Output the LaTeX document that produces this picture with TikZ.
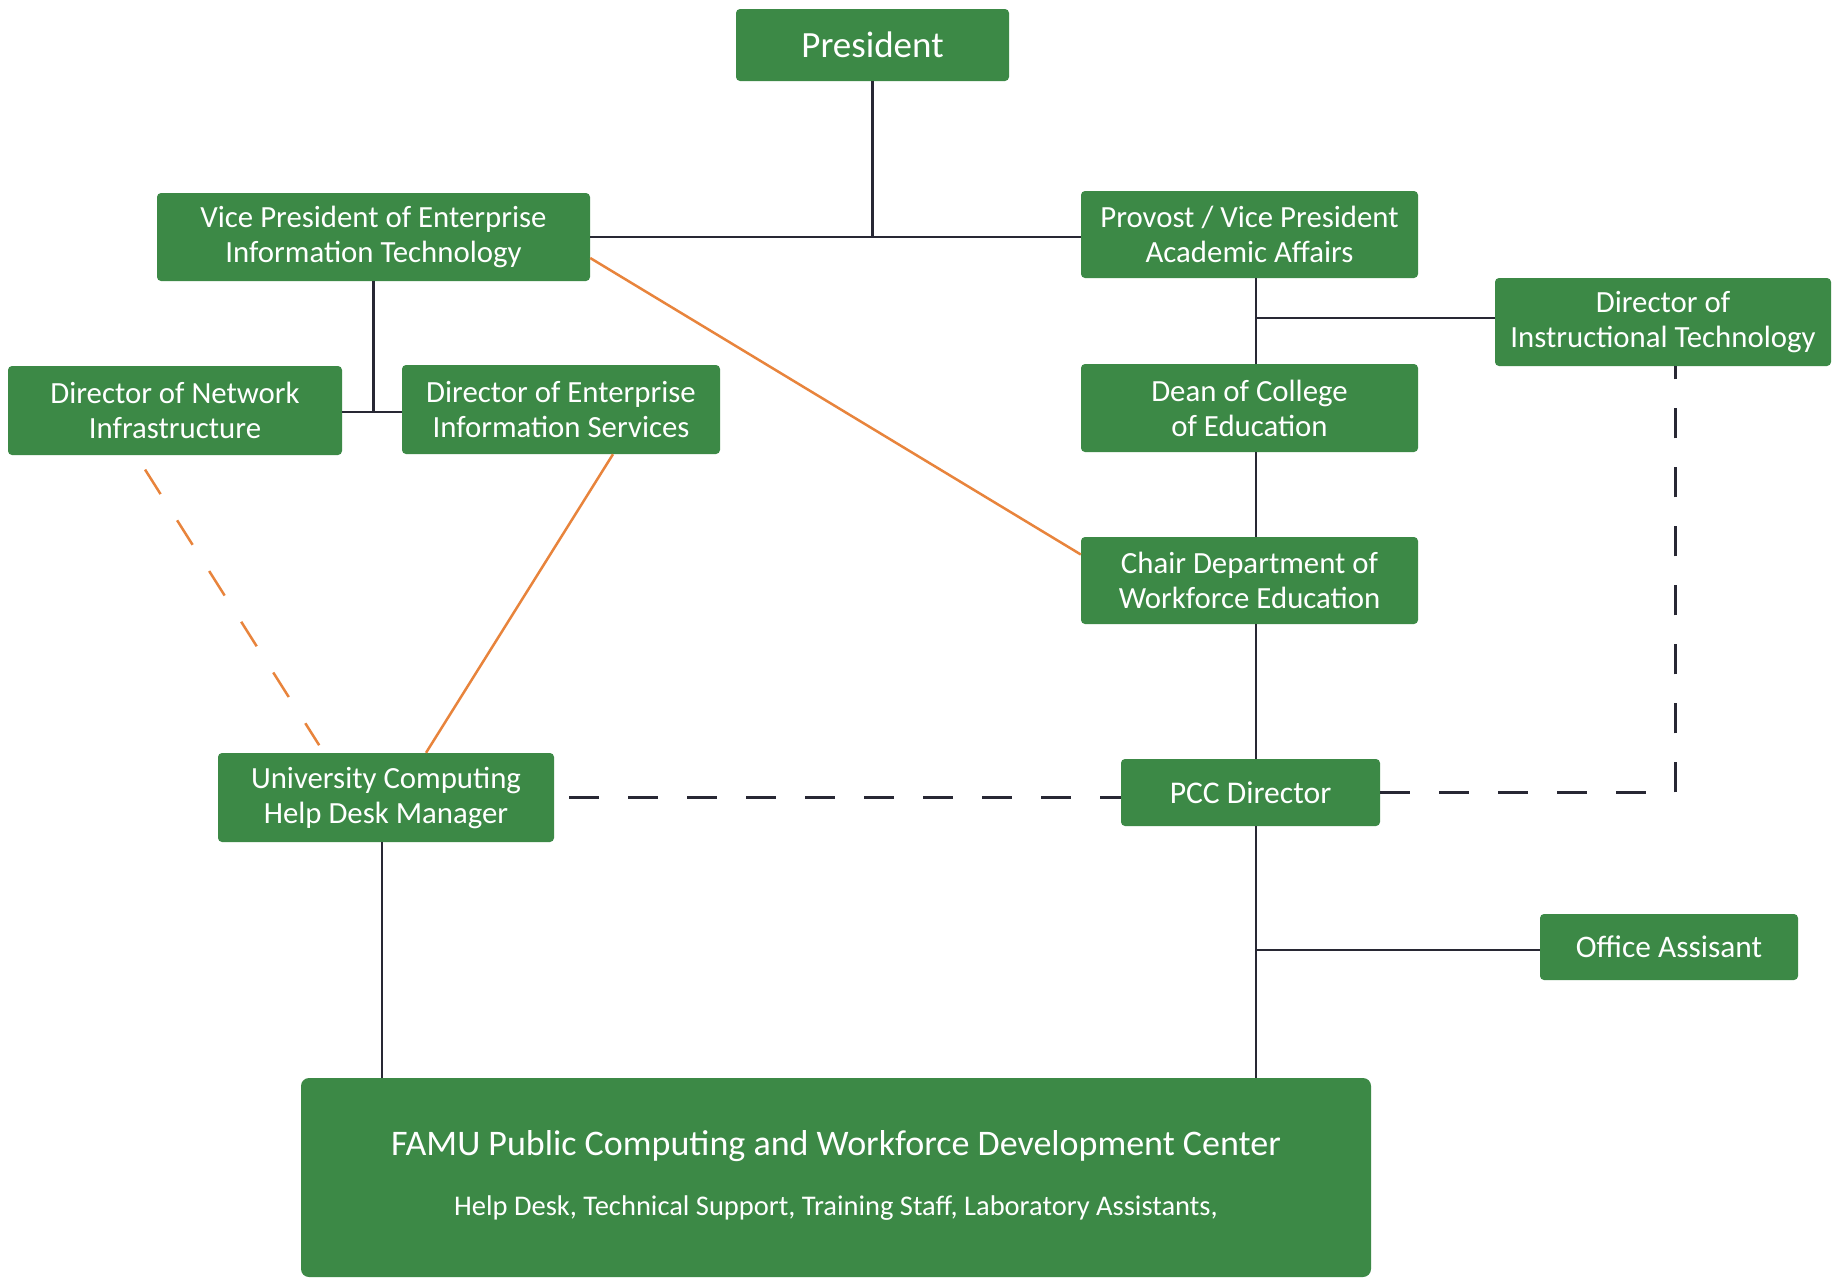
\documentclass[tikz,border=0pt]{standalone}
\usepackage{fontspec}
\setmainfont{Carlito}
\usetikzlibrary{calc}
\definecolor{boxgreen}{RGB}{60,137,70}
\definecolor{linedark}{RGB}{40,40,52}
\definecolor{lineorange}{RGB}{232,132,60}
\begin{document}
\begin{tikzpicture}[x=1pt,y=-1pt,
  box/.style={fill=boxgreen, rounded corners=4pt, text=white, align=center, inner sep=0pt,
              font=\fontsize{30.8}{35}\selectfont},
  conn/.style={draw=linedark, line width=2.5pt},
  orangeline/.style={draw=lineorange, line width=2.5pt},
  dline/.style={draw=linedark, line width=3pt, dash pattern=on 30pt off 29pt}]
\useasboundingbox (0,0) rectangle (1839,1283);
\fill[white] (0,0) rectangle (1839,1283);

\node[box, minimum width=273pt, minimum height=72pt, font=\fontsize{37}{40}\selectfont] (pres) at (872.5,45) {President};
\node[box, minimum width=433pt, minimum height=88pt] (vp) at (373.5,237) {Vice President of Enterprise\\Information Technology};
\node[box, minimum width=337pt, minimum height=87pt] (prov) at (1249.5,234.5) {Provost / Vice President\\Academic Affairs};
\node[box, minimum width=334pt, minimum height=89pt] (dnet) at (175,410.5) {Director of Network\\Infrastructure};
\node[box, minimum width=318pt, minimum height=89pt] (deis) at (561,409.5) {Director of Enterprise\\Information Services};
\node[box, minimum width=336pt, minimum height=88pt] (dit) at (1663,322) {Director of\\Instructional Technology};
\node[box, minimum width=337pt, minimum height=88pt] (dean) at (1249.5,408) {Dean of College\\of Education};
\node[box, minimum width=337pt, minimum height=87pt] (chair) at (1249.5,580.5) {Chair Department of\\Workforce Education};
\node[box, minimum width=259pt, minimum height=67pt, font=\fontsize{31.6}{35}\selectfont] (pcc) at (1250.5,792.5) {PCC Director};
\node[box, minimum width=258pt, minimum height=66pt, font=\fontsize{31.4}{35}\selectfont] (oa) at (1669,947) {Office Assisant};
\node[box, minimum width=336pt, minimum height=89pt] (uchd) at (386,797.5) {University Computing\\Help Desk Manager};
\node[box, minimum width=1070pt, minimum height=199pt, rounded corners=8pt] (famu) at (836,1177.5) {};
\node[text=white, inner sep=0pt, font=\fontsize{36}{40}\selectfont] (famu1) at (836,1146) {FAMU Public Computing and Workforce Development Center};
\node[text=white, inner sep=0pt, font=\fontsize{28.5}{32}\selectfont] (famu2) at (836,1208) {Help Desk, Technical Support, Training Staff, Laboratory Assistants,};

\coordinate (tr) at (1256,0);

% solid connectors
\draw[conn] (pres.south) -- (pres.south |- vp.east);
\draw[conn] (vp.east) -- (vp.east -| prov.west);
\draw[conn] (vp.south) -- (vp.south |- 0,412);
\draw[conn] (dnet.east |- 0,412) -- (deis.west |- 0,412);
\draw[conn] (prov.south -| tr) -- (dean.north -| tr);
\draw[conn] (tr |- 0,318) -- (dit.west |- 0,318);
\draw[conn] (dean.south -| tr) -- (chair.north -| tr);
\draw[conn] (chair.south -| tr) -- (pcc.north -| tr);
\draw[conn] (pcc.south -| tr) -- (famu.north -| tr);
\draw[conn] (tr |- 0,950) -- (oa.west |- 0,950);
\draw[conn] ([xshift=-4pt]uchd.south) -- ([xshift=-4pt]uchd.south |- famu.north);

% orange connectors
\draw[orangeline] ([yshift=-21pt]vp.east) -- ([yshift=26pt]chair.west);
\draw[orangeline] ([xshift=52pt]deis.south) -- ([xshift=40pt]uchd.north);
\draw[orangeline, dash pattern=on 29pt off 31pt, shorten <=17pt, shorten >=9pt]
  ([xshift=-39pt]dnet.south) -- ([xshift=-62pt]uchd.north);

% dashed connectors
\draw[dline, dash phase=44pt] (uchd.east) -- (uchd.east -| pcc.west);
\draw[dline] (pcc.east) -| ([xshift=12pt]dit.south);
\end{tikzpicture}
\end{document}
